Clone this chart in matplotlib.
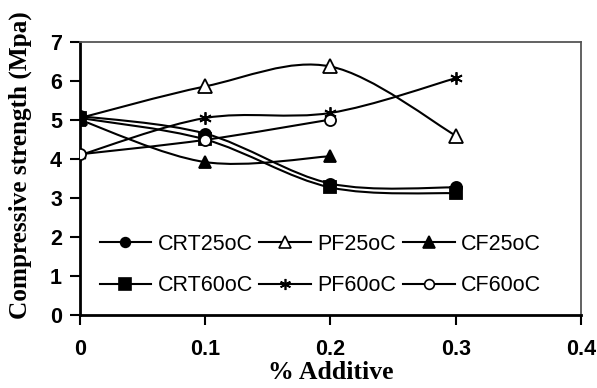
import matplotlib
matplotlib.use("Agg")
import matplotlib.pyplot as plt
from matplotlib.path import Path
from matplotlib.patches import PathPatch
from matplotlib.lines import Line2D

# ---- data ----
additive = [0.0, 0.1, 0.2, 0.3]
crt25 = [5.10, 4.65, 3.37, 3.27]
pf25 = [5.05, 5.86, 6.37, 4.60]
cf25 = [5.00, 3.92, 4.07]
crt60 = [5.05, 4.50, 3.27, 3.12]
pf60 = [4.10, 5.05, 5.18, 6.07]
cf60 = [4.12, 4.49, 5.01]

series = [
    ("CRT25oC", crt25, dict(marker="o", mfc="black", ms=8)),
    ("PF25oC", pf25, dict(marker="^", mfc="white", ms=10)),
    ("CF25oC", cf25, dict(marker="^", mfc="black", ms=9)),
    ("CRT60oC", crt60, dict(marker="s", mfc="black", ms=9)),
    ("PF60oC", pf60, dict(marker=(6, 2, 0), mfc="black", ms=9)),
    ("CF60oC", cf60, dict(marker="o", mfc="white", ms=8)),
]


def smooth_path(xs, ys):
    """Excel-style smoothed line: Bezier segments (Catmull-Rom control points)."""
    pts = list(zip(xs, ys))
    verts = [pts[0]]
    codes = [Path.MOVETO]
    n = len(pts)
    for i in range(n - 1):
        p0 = pts[max(i - 1, 0)]
        p1 = pts[i]
        p2 = pts[i + 1]
        p3 = pts[min(i + 2, n - 1)]
        c1 = (p1[0] + (p2[0] - p0[0]) / 6, p1[1] + (p2[1] - p0[1]) / 6)
        c2 = (p2[0] - (p3[0] - p1[0]) / 6, p2[1] - (p3[1] - p1[1]) / 6)
        verts += [c1, c2, p2]
        codes += [Path.CURVE4] * 3
    return Path(verts, codes)


fig = plt.figure(figsize=(5.97, 3.88), dpi=100)
ax = fig.add_axes([0.134, 0.188, 0.839, 0.704])

handles = {}
for name, vals, style in series:
    xs = additive[: len(vals)]
    ax.add_patch(PathPatch(smooth_path(xs, vals), fill=False, ec="black", lw=1.5, zorder=2))
    ax.plot(xs, vals, ls="none", mec="black", mew=1.3, zorder=3, **style)
    handles[name] = Line2D([], [], color="black", lw=1.5, mec="black", mew=1.2,
                           **{**style, "ms": style["ms"] - 1})

ax.set_xlim(0, 0.4)
ax.set_ylim(0, 7)
ax.set_xticks([0, 0.1, 0.2, 0.3, 0.4])
ax.set_xticklabels(["0", "0.1", "0.2", "0.3", "0.4"])
ax.set_yticks(range(0, 8))

for lab in ax.get_xticklabels() + ax.get_yticklabels():
    lab.set_fontfamily("Liberation Sans")
    lab.set_fontweight("bold")
    lab.set_fontsize(15.5)

ax.tick_params(axis="x", direction="out", length=7, width=1.5, pad=10)
ax.tick_params(axis="y", direction="out", length=7, width=1.5, pad=6)
for side in ("left", "bottom"):
    ax.spines[side].set_linewidth(2)
    ax.spines[side].set_color("black")
for side in ("top", "right"):
    ax.spines[side].set_linewidth(1.3)
    ax.spines[side].set_color("#555555")

ax.set_xlabel("% Additive", fontfamily="Liberation Serif", fontweight="bold",
              fontsize=18.5, labelpad=1)
ax.set_ylabel("Compressive strength (Mpa)", fontfamily="Liberation Serif",
              fontweight="bold", fontsize=18.2)
ax.yaxis.set_label_coords(-0.095, 0.55)

order = ["CRT25oC", "CRT60oC", "PF25oC", "PF60oC", "CF25oC", "CF60oC"]
ax.legend([handles[k] for k in order], order, ncol=3, frameon=False,
          loc="center", bbox_to_anchor=(0.48, 0.183),
          prop={"family": "Liberation Sans", "size": 15.5},
          handlelength=2.4, handletextpad=0.3, columnspacing=0.3,
          labelspacing=0.95, borderpad=0)

fig.savefig("out.png", dpi=100)
